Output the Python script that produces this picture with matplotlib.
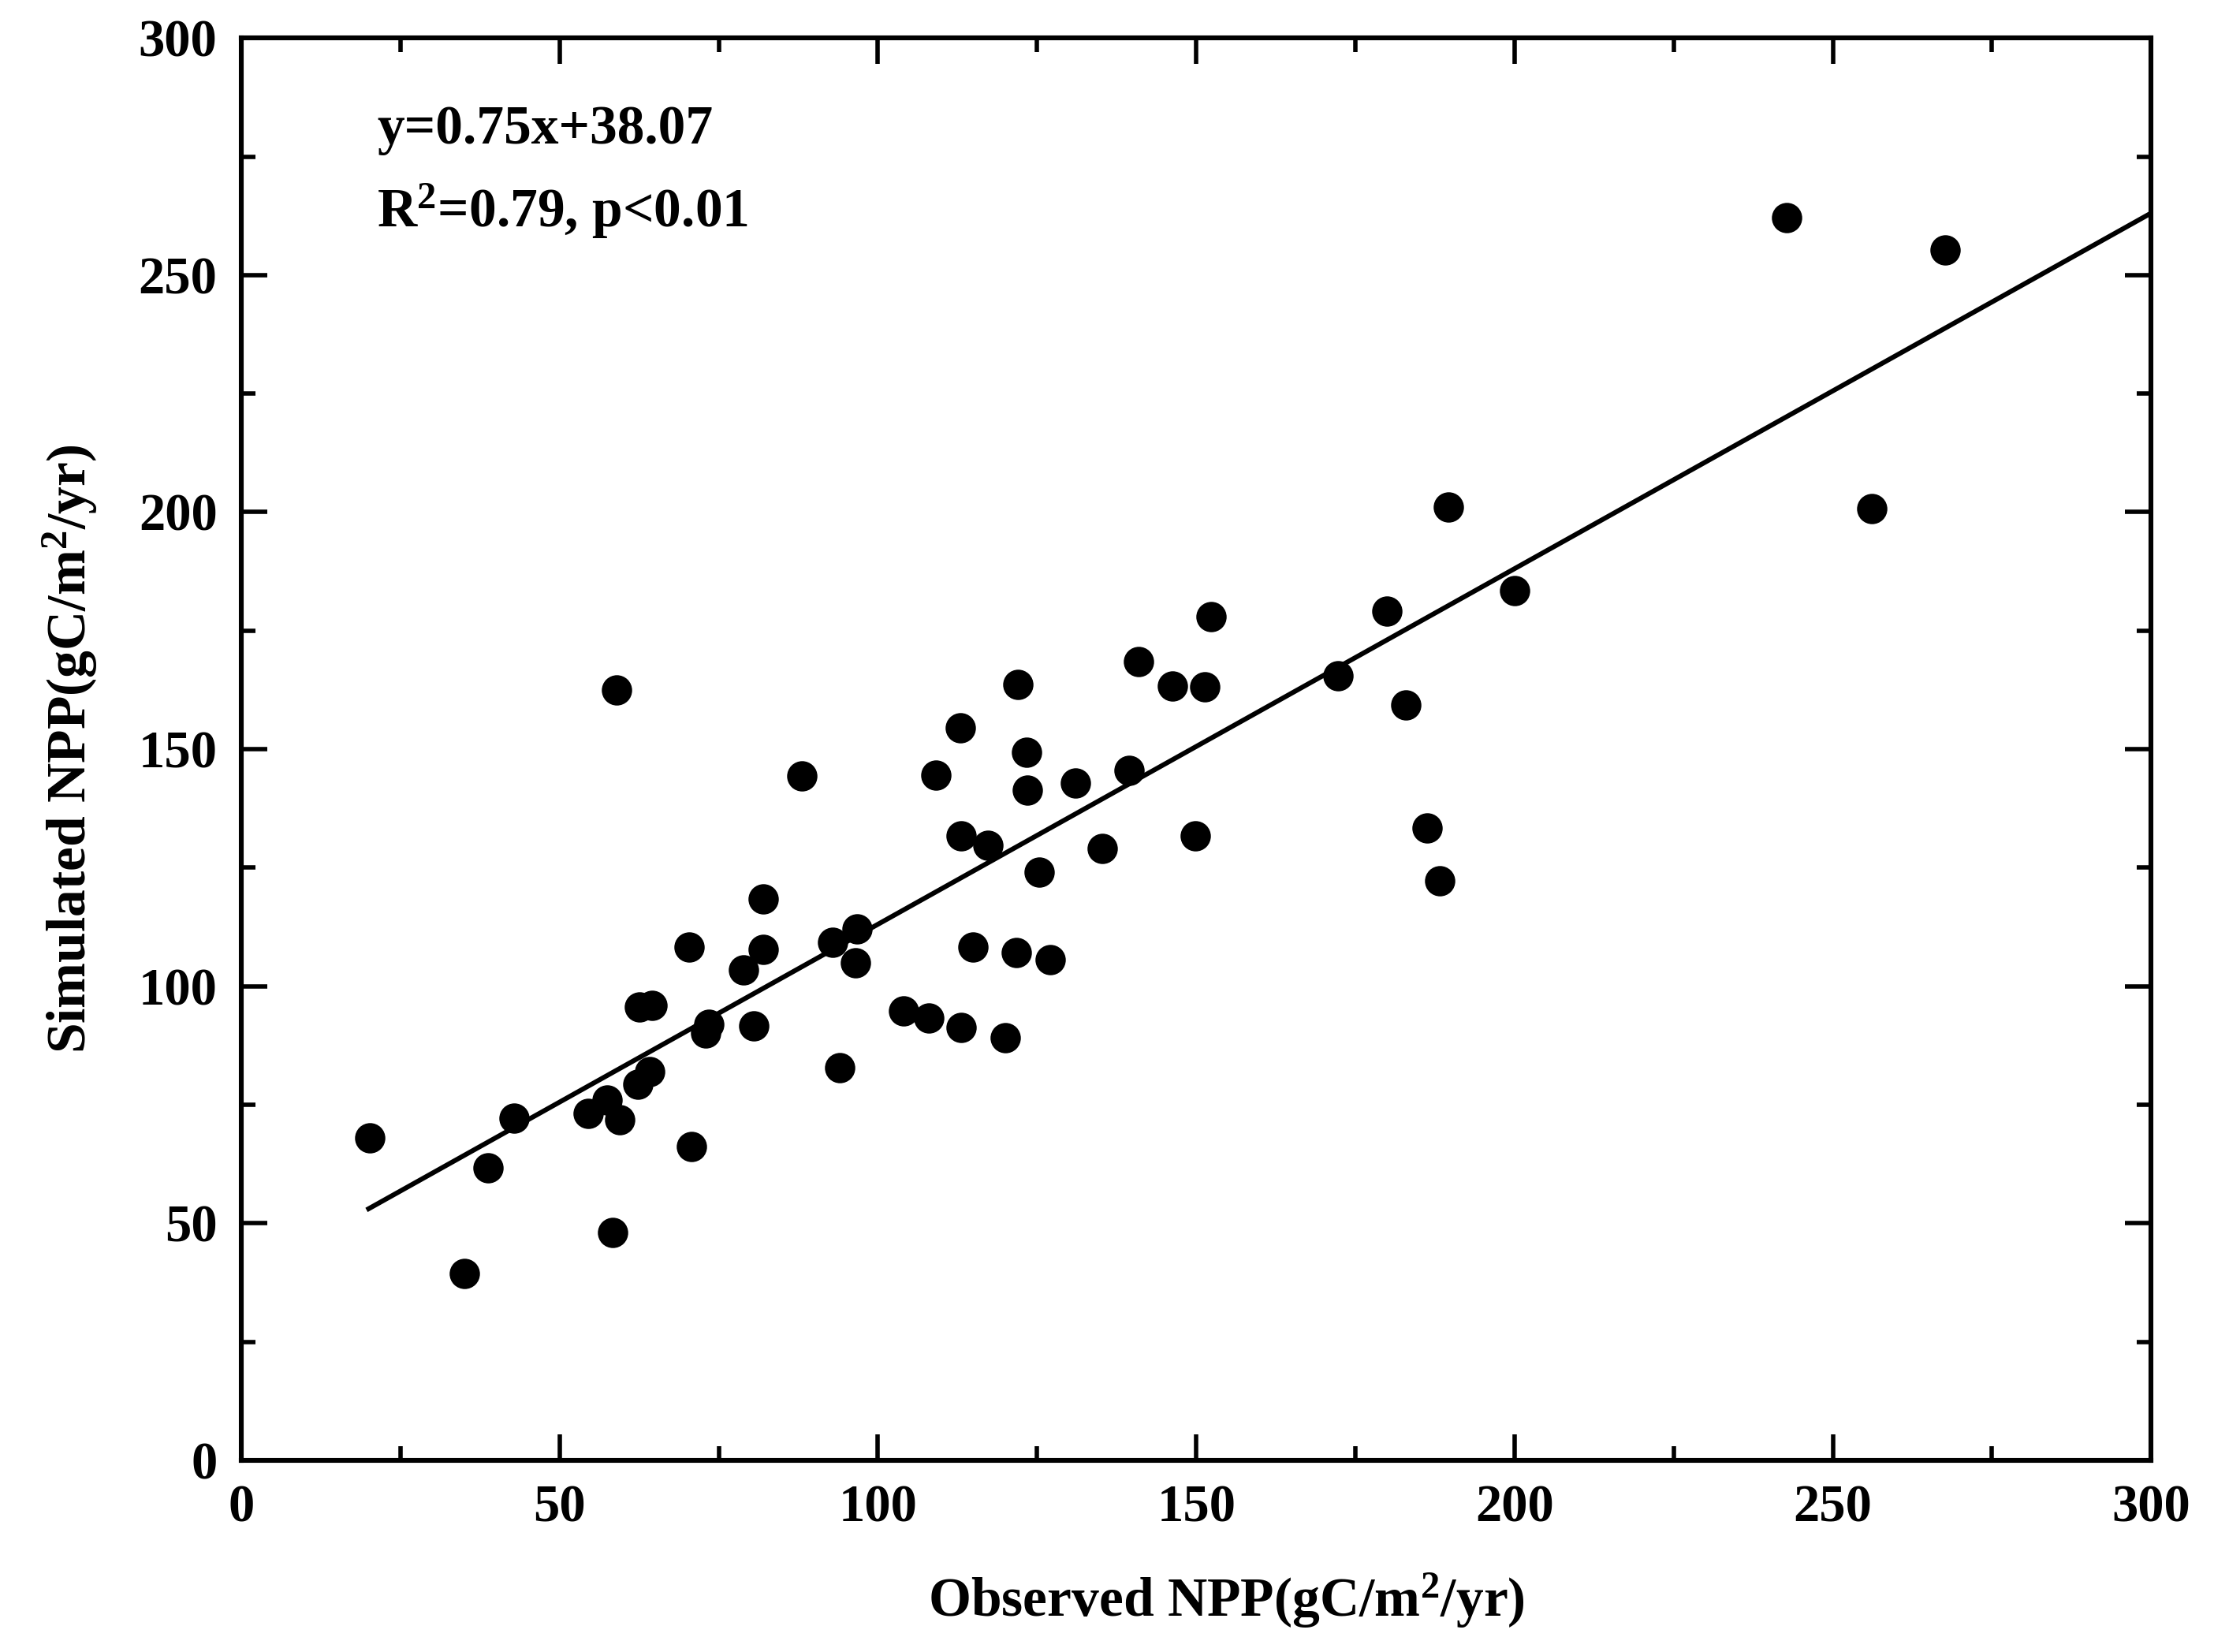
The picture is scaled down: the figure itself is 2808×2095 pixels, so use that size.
import numpy as np
import matplotlib
matplotlib.use('Agg')
import matplotlib.pyplot as plt
from matplotlib.ticker import MultipleLocator

# Observed vs simulated NPP (gC/m2/yr)
observed = [20.2, 35.0, 38.8, 42.8, 54.5, 57.4, 59.4, 58.3, 59.0, 62.3,
            62.5, 64.5, 64.1, 70.3, 70.7, 72.9, 73.4, 78.9, 80.5, 82.0,
            82.0, 88.0, 92.9, 94.0, 96.5, 96.7, 104.0, 108.0, 109.1, 112.9,
            113.1, 113.1, 114.9, 117.3, 120.0, 121.7, 122.0, 123.3, 123.5, 125.3,
            127.1, 131.0, 135.3, 139.5, 141.0, 146.3, 149.9, 151.4, 152.3, 172.3,
            180.0, 182.9, 186.3, 188.2, 189.6, 200.0, 242.8, 256.1, 267.6]
simulated = [68.0, 39.4, 61.7, 72.2, 73.1, 76.0, 71.9, 48.0, 162.5, 79.3,
             95.7, 96.0, 82.0, 108.3, 66.2, 90.1, 91.9, 103.5, 91.6, 107.7,
             118.4, 144.3, 109.2, 82.9, 105.0, 112.1, 94.8, 93.3, 144.6, 154.5,
             131.8, 91.3, 108.3, 129.7, 89.2, 107.1, 163.7, 149.4, 141.4, 124.1,
             105.6, 142.9, 129.1, 145.5, 168.5, 163.4, 131.8, 163.1, 178.0, 165.5,
             179.2, 159.3, 133.3, 122.3, 201.0, 183.4, 262.1, 200.7, 255.3]

slope = 0.75
intercept = 38.07
fit_range = [20, 300]

plt.rcParams['font.family'] = ['Liberation Serif', 'DejaVu Serif']
plt.rcParams['font.weight'] = 'bold'
plt.rcParams['mathtext.fontset'] = 'custom'
plt.rcParams['mathtext.rm'] = 'Liberation Serif:bold'
plt.rcParams['mathtext.bf'] = 'Liberation Serif:bold'
plt.rcParams['mathtext.default'] = 'bf'

fig = plt.figure(figsize=(14.04, 10.475), dpi=200)
ax = fig.add_axes([0.109, 0.116, 0.8626, 0.861])

ax.scatter(observed, simulated, s=165, color='black', zorder=3)
fx = np.array(fit_range)
ax.plot(fx, slope * fx + intercept, color='black', lw=2.2)

ax.set_xlim(0, 300)
ax.set_ylim(0, 300)
ax.xaxis.set_major_locator(MultipleLocator(50))
ax.xaxis.set_minor_locator(MultipleLocator(25))
ax.yaxis.set_major_locator(MultipleLocator(50))
ax.yaxis.set_minor_locator(MultipleLocator(25))
ax.tick_params(which='both', direction='in', top=True, right=True,
               width=2.0, labelsize=24)
ax.tick_params(which='major', length=12, pad=11)
ax.tick_params(which='minor', length=6.5)
for sp in ax.spines.values():
    sp.set_linewidth(2.2)

ax.set_xlabel('Observed NPP(gC/m$^2$/yr)', fontsize=25, fontweight='bold')
ax.xaxis.set_label_coords(0.516, -0.078)
ax.set_ylabel('Simulated NPP(gC/m$^2$/yr)', fontsize=25, fontweight='bold', labelpad=18)

ax.text(21.3, 280.6, 'y=0.75x+38.07', fontsize=25, fontweight='bold', va='center')
ax.text(21.3, 263.5, 'R$^2$=0.79, p<0.01', fontsize=25, fontweight='bold', va='center')

fig.savefig('out.png', dpi=200)
